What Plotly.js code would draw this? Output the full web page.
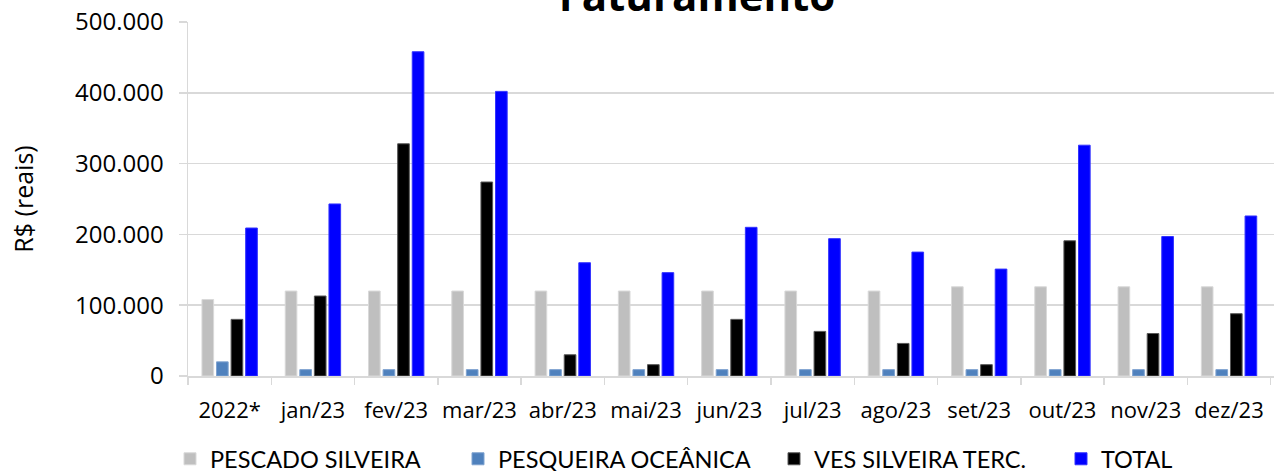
<!DOCTYPE html>
<html>
<head>
<meta charset="utf-8">
<script src="https://cdn.plot.ly/plotly-3.0.1.min.js"></script>
<style>html,body{margin:0;padding:0;background:#fff;}#chart{width:1274px;height:471px;}</style>
</head>
<body>
<div id="chart"></div>
<script>
const categories = ["2022*","jan/23","fev/23","mar/23","abr/23","mai/23","jun/23","jul/23","ago/23","set/23","out/23","nov/23","dez/23"];
const pescadoSilveira = [108000,120000,120000,120000,120000,120000,120000,120000,120000,126000,126000,126000,126000];
const pesqueiraOceanica = [20000,9000,9000,9000,9000,9000,9000,9000,9000,9000,9000,9000,9000];
const vesSilveiraTerc = [80000,113000,328000,274000,30000,16000,80000,63000,46000,16000,191000,60000,88000];
const total = [209000,243000,458000,402000,160000,146000,210000,194000,175000,151000,326000,197000,226000];
const yTickVals = [0,100000,200000,300000,400000,500000];
const yTickText = ["0","100.000","200.000","300.000","400.000","500.000"];

const legFont = {family:"Lato, 'Noto Sans', sans-serif", size:23.5, color:'#000'};
const names = ["PESCADO SILVEIRA","PESQUEIRA OCEÂNICA","VES SILVEIRA TERC.","TOTAL"];
const series = [pescadoSilveira, pesqueiraOceanica, vesSilveiraTerc, total];
const colors = ['#bfbfbf','#4f81bd','#000000','#0000ff'];
const lineColors = ['#d9d9d9','#7fa3d0','#595959','#3333ff'];
const legendIds = ['legend','legend2','legend3','legend4'];

const traces = series.map((s,i)=>({
  type:'bar', x:categories, y:s, name:names[i],
  marker:{color:colors[i], line:{color:lineColors[i], width:1}},
  legend:legendIds[i], showlegend:true, hoverinfo:'skip'
}));

const legX = [170, 458, 774, 1061];
const layout = {
  width:1274, height:471,
  showlegend:true,
  margin:{l:188, r:0, t:22, b:95, pad:0},
  paper_bgcolor:'#fff', plot_bgcolor:'#fff',
  barmode:'group', bargap:0.3, bargroupgap:0.2,
  font:{family:"'Open Sans', 'Noto Sans', sans-serif", size:22, color:'#000'},
  title:{text:'<b>Faturamento</b>', font:{family:"'Open Sans', 'Noto Sans', sans-serif", size:42, color:'#000'},
         x:697/1274, xanchor:'center', xref:'container', y:1-11/471, yanchor:'bottom', yref:'container'},
  xaxis:{type:'category', range:[-0.5, 12.54], showgrid:false, showline:true, linecolor:'#d9d9d9', linewidth:1.5,
         ticks:'outside', tickson:'boundaries', ticklen:7, tickcolor:'#d9d9d9', tickwidth:1.5, tickangle:0,
         ticklabelstandoff:14, tickfont:{size:22}},
  yaxis:{range:[0,500000], tickvals:yTickVals, ticktext:yTickText, showgrid:true, gridcolor:'#d9d9d9', gridwidth:1.5,
         zeroline:false, showline:true, linecolor:'#d9d9d9', linewidth:1.5,
         ticks:'outside', ticklen:8, tickcolor:'#d9d9d9', tickwidth:1.5, ticklabelstandoff:10,
         tickfont:{size:24},
         title:{text:'R$ (reais)', font:{size:25}, standoff:34}, automargin:false}
};
legendIds.forEach((id,i)=>{
  layout[id] = {x:legX[i]/1274, xref:'container', y:1-459/471, yref:'container', xanchor:'left', yanchor:'middle',
                orientation:'h', font:legFont, bgcolor:'rgba(0,0,0,0)', borderwidth:0, visible:true};
});
Plotly.newPlot('chart', traces, layout, {displayModeBar:false, staticPlot:true});
</script>
</body>
</html>
